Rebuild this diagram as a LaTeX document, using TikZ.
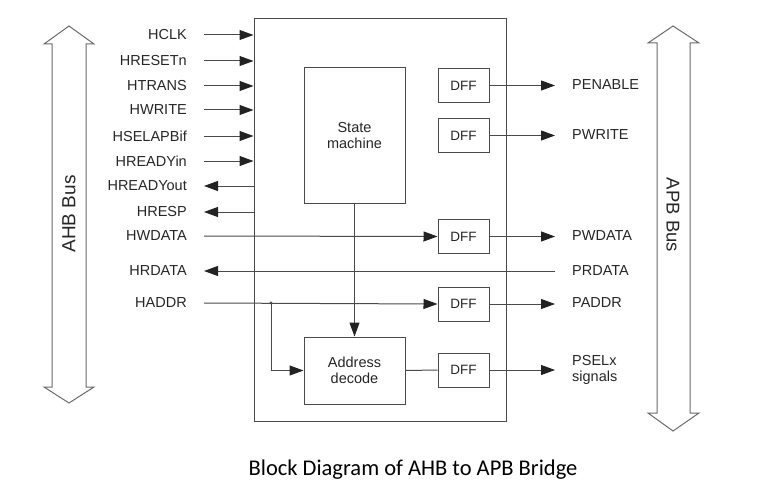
\documentclass[tikz,border=0pt]{standalone}
\usepackage{fontspec}
\setmainfont{Liberation Sans}
\newfontfamily\capfont{Carlito}
\usetikzlibrary{arrows.meta}
\definecolor{ln}{HTML}{4A4A4A}
\definecolor{tx}{HTML}{262626}
\definecolor{bus}{HTML}{6A6A6A}
\definecolor{tip}{HTML}{222222}
\begin{document}
\begin{tikzpicture}[x=1pt,y=-1pt,
  every node/.style={text=tx},
  lbl/.style={font=\fontsize{14.5}{16}\selectfont, inner sep=0pt},
  blk/.style={draw=ln, line width=1pt, inner sep=0pt, align=center, font=\fontsize{14.5}{16}\selectfont},
  dffbox/.style={blk, minimum width=51pt, minimum height=34pt, font=\fontsize{13.5}{16}\selectfont},
  sig/.style={draw=ln, line width=1pt, -{Triangle[length=14pt,width=10pt,color=tip,fill=tip]}},
  wire/.style={draw=ln, line width=1pt},
  busarrow/.style={draw=bus, line width=1pt}]
\useasboundingbox (0,0) rectangle (778,500);

% main bridge box
\node[blk, minimum width=252pt, minimum height=402pt] (main) at (380,220) {};

% buses
\draw[busarrow] (69,26) -- (94,44) -- (86,44) -- (86,387) -- (94,387) -- (69,403) -- (44,387) -- (52,387) -- (52,44) -- (44,44) -- cycle;
\node[rotate=90, font=\fontsize{19}{20}\selectfont, inner sep=0pt] (ahb) at (69,214) {AHB Bus};
\draw[busarrow] (673,26) -- (699,43) -- (690,43) -- (690,413) -- (699,413) -- (673,431) -- (648,413) -- (657,413) -- (657,43) -- (648,43) -- cycle;
\node[rotate=-90, font=\fontsize{18.5}{20}\selectfont, inner sep=0pt] (apb) at (673,215) {APB Bus};

% internal blocks
\node[blk, minimum width=101pt, minimum height=135pt] (sm) at (354.5,135.5) {State\\machine};
\node[blk, minimum width=101pt, minimum height=67pt] (ad) at (354.5,370.5) {Address\\decode};
\node[dffbox] (d1) at (463.5,85.5) {DFF};
\node[dffbox] (d2) at (463.5,135.5) {DFF};
\node[dffbox] (d3) at (463.5,236.5) {DFF};
\node[dffbox] (d4) at (463.5,304) {DFF};
\node[dffbox] (d5) at (463.5,370) {DFF};

% left labels
\foreach \n/\t/\y in {hclk/HCLK/35, hres/HRESETn/61, htr/HTRANS/86, hwr/HWRITE/110, hsel/HSELAPBif/136, hrin/HREADYin/161, hrout/HREADYout/186, hresp/HRESP/212, hwd/HWDATA/236, hrd/HRDATA/271, had/HADDR/303}{
  \node[lbl, anchor=east] (l\n) at (187,\y) {\t};
  \coordinate (s\n) at (204,\y);
}
% inputs into the box
\foreach \n in {hclk,hres,htr,hwr,hsel,hrin}{
  \draw[sig] (s\n) -- (s\n -| main.west);
}
% outputs from the box
\foreach \n in {hrout,hresp}{
  \draw[sig] (s\n -| main.west) -- (s\n);
}

% right labels
\node[lbl, anchor=west] (pen) at (572,85) {PENABLE};
\node[lbl, anchor=west] (pwr) at (572,135) {PWRITE};
\node[lbl, anchor=west] (pwd) at (572,236) {PWDATA};
\node[lbl, anchor=west] (prd) at (572,271) {PRDATA};
\node[lbl, anchor=west] (pad) at (572,303) {PADDR};
\node[lbl, anchor=west, align=left] (psel) at (572,370) {PSELx\\signals};
\coordinate (e1) at (555,85.5);
\coordinate (e2) at (555,135.5);
\coordinate (e3) at (555,236.5);
\coordinate (e4) at (555,304);
\coordinate (e5) at (555,370);
\coordinate (erd) at (555,271);

\draw[sig] (d1.east) -- (e1);
\draw[sig] (d2.east) -- (e2);
\draw[sig] (d3.east) -- (e3);
\draw[sig] (d4.east) -- (e4);
\draw[sig] (d5.east) -- (e5);

% data paths
\draw[sig] (shwd) -- (d3.west);
\draw[sig] (erd) -- (shrd);
\draw[sig] (shad) -- (d4.west);
\coordinate (j) at (271,303);
\fill[ln] (j) circle (1.6pt);
\draw[sig] (j) |- (ad.west);
\draw[sig] (sm.south) -- (ad.north);
\draw[wire] (ad.east) -- (d5.west);

% caption
\node[font=\capfont\fontsize{22.5}{24}\selectfont, text=black, inner sep=0pt] (cap) at (413,470) {Block Diagram of AHB to APB Bridge};
\end{tikzpicture}
\end{document}
